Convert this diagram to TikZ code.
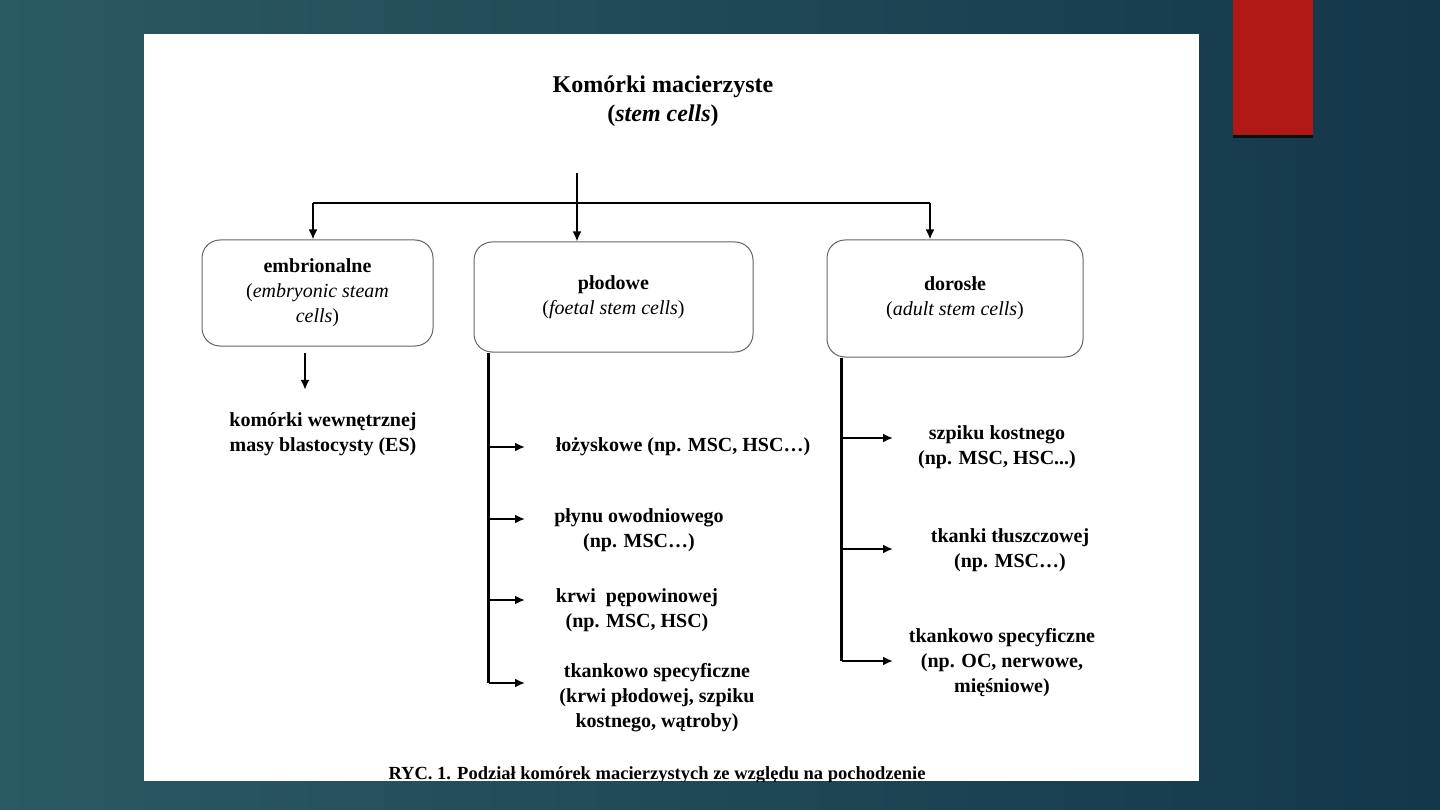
\documentclass[tikz,border=0pt]{standalone}
\usepackage{fontspec}
\setmainfont{Liberation Serif}
\usetikzlibrary{arrows.meta}

\definecolor{bgleft}{RGB}{42,90,99}
\definecolor{bgright}{RGB}{20,55,74}
\definecolor{ribbon}{RGB}{176,24,21}
\definecolor{boxline}{RGB}{100,100,100}

\tikzset{
  line/.style={line width=2.5pt},
  arr/.style={line width=2.5pt, -{Latex[length=10pt,width=9pt]}},
  cellbox/.style={draw=boxline, line width=1pt, rounded corners=18pt, fill=white,
    align=center, font=\fontsize{20}{25}\selectfont},
  leaf/.style={align=center, font=\bfseries\fontsize{20}{25}\selectfont}
}

\begin{document}
\begin{tikzpicture}[x=1pt, y=-1pt]
\useasboundingbox (0,0) rectangle (1440,810);
% slide background
\shade[left color=bgleft, right color=bgright] (0,0) rectangle (1440,810);
\fill[black!70!bgright] (1233,0) rectangle (1313,138);
\fill[ribbon] (1233,0) rectangle (1313,135);
\fill[white] (144,34) rectangle (1199,781);

% top
\node[align=center, font=\bfseries\fontsize{24}{29}\selectfont] (Root) at (663,101)
  {Komórki macierzyste\\(\textit{stem cells})};

% three groups
\node[cellbox, minimum width=231pt, minimum height=106pt] (Embryo) at (317.5,293)
  {\textbf{embrionalne}\\(\textit{embryonic steam}\\\textit{cells})};
\node[cellbox, minimum width=279pt, minimum height=110pt] (Foetal) at (613.5,297)
  {\textbf{płodowe}\\(\textit{foetal stem cells})};
\node[cellbox, minimum width=256pt, minimum height=117pt] (Adult) at (955,298.5)
  {\textbf{dorosłe}\\(\textit{adult stem cells})};

\coordinate (Top) at (577,173);
\coordinate (Split) at (577,203);
\draw[line] (Top) -- (Split);
\draw[line] ([xshift=-4.5pt]Embryo.north |- Split) -- ([xshift=-25pt]Adult.north |- Split);
\draw[arr] ([xshift=-4.5pt]Embryo.north |- Split) -- ([xshift=-4.5pt]Embryo.north);
\draw[arr] (Split) -- (Foetal.north -| Split);
\draw[arr] ([xshift=-25pt]Adult.north |- Split) -- ([xshift=-25pt]Adult.north);

% embryonic
\node[leaf] (ES) at (323,434) {komórki wewnętrznej\\masy blastocysty (ES)};
\draw[arr, shorten <=6pt, shorten >=19pt] ([xshift=-12.5pt]Embryo.south)
  -- ([xshift=-12.5pt]Embryo.south |- ES.north);

% foetal
\node[leaf] (Placenta) at (683,447) {łożyskowe (np. MSC, HSC…)};
\node[leaf] (Amnion) at (639,530) {płynu owodniowego\\(np. MSC…)};
\node[leaf] (Cord) at (637,610) {krwi\ \ pępowinowej\\(np. MSC, HSC)};
\node[leaf] (FTissue) at (657,698) {tkankowo specyficzne\\(krwi płodowej, szpiku\\kostnego, wątroby)};

\coordinate (FStem) at ([xshift=15pt]Foetal.south west);
\coordinate (ToPlacenta) at (525,447);
\coordinate (ToAmnion) at (525,519);
\coordinate (ToCord) at (525,600);
\coordinate (ToFTissue) at (525,683);
\draw[line] (FStem) -- (FStem |- ToFTissue);
\foreach \c in {ToPlacenta,ToAmnion,ToCord,ToFTissue}
  \draw[arr] (FStem |- \c) -- (\c);

% adult
\node[leaf] (Marrow) at (997,447) {szpiku kostnego\\(np. MSC, HSC...)};
\node[leaf] (Fat) at (1010,550) {tkanki tłuszczowej\\(np. MSC…)};
\node[leaf] (ATissue) at (1002,663) {tkankowo specyficzne\\(np. OC, nerwowe,\\mięśniowe)};

\coordinate (AStem) at ([xshift=15pt]Adult.south west);
\coordinate (ToMarrow) at (893,438);
\coordinate (ToFat) at (893,549);
\coordinate (ToATissue) at (893,661);
\draw[line] (AStem) -- (AStem |- ToATissue);
\foreach \c in {ToMarrow,ToFat,ToATissue}
  \draw[arr] (AStem |- \c) -- (\c);

% caption, cut by the sheet edge
\begin{scope}
\clip (144,34) rectangle (1199,781);
\node[anchor=base, font=\bfseries\fontsize{18.5}{20}\selectfont] (Caption) at (657,779)
  {RYC. 1. Podział komórek macierzystych ze względu na pochodzenie};
\end{scope}
\end{tikzpicture}
\end{document}
